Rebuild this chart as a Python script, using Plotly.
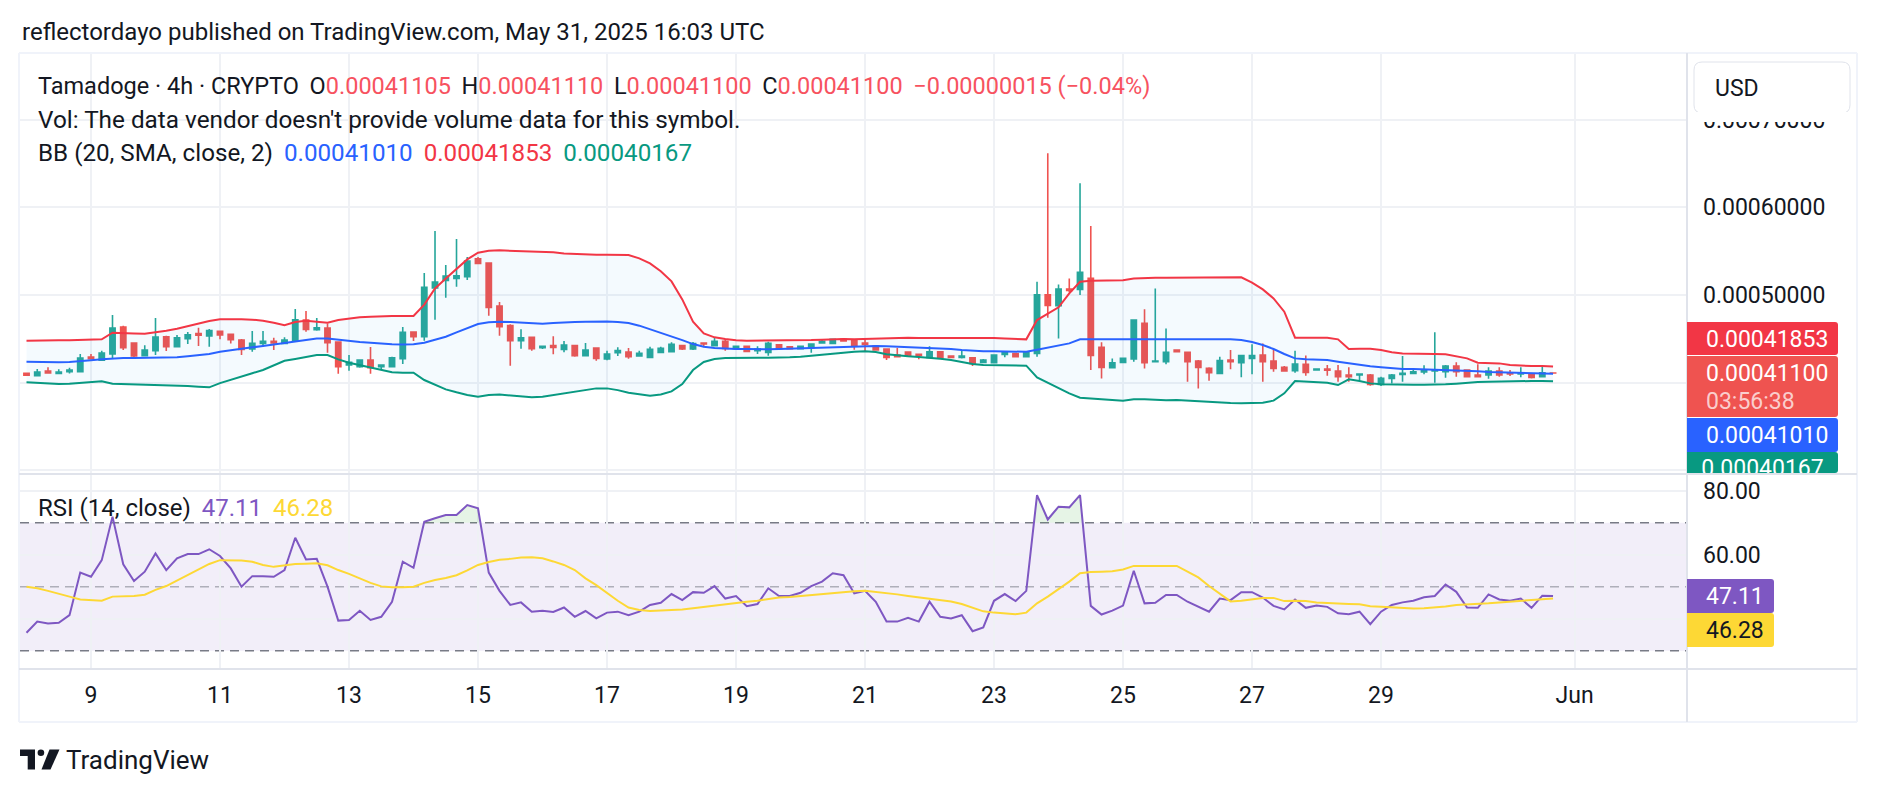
import numpy as np
import pandas as pd
import plotly.graph_objects as go

# ---------------- data (prices in millionths of USD) ----------------
open_u = [410.6, 408.0, 413.3, 410.6, 412.5, 412.5, 429.3, 425.5, 432.7, 463.5,
          445.2, 430.8, 436.5, 452.4, 441.0, 450.2, 455.9, 453.2, 458.5, 455.1,
          448.6, 438.4, 444.8, 447.1, 444.8, 447.5, 471.4, 460.4, 462.3, 446.4,
          420.1, 418.2, 425.8, 418.2, 418.2, 427.4, 457.8, 452.4, 507.9, 516.7,
          518.9, 520.8, 541.4, 536.4, 487.4, 465.0, 447.9, 451.7, 439.9, 442.2,
          438.0, 442.2, 430.8, 439.5, 427.0, 434.2, 435.0, 430.4, 428.9, 434.6,
          435.3, 442.2, 438.4, 445.2, 442.2, 447.1, 438.8, 441.4, 436.5, 434.6,
          443.3, 441.0, 438.8, 439.9, 445.2, 444.8, 449.4, 448.6, 445.2, 441.8,
          438.4, 431.5, 435.0, 432.3, 428.9, 435.3, 430.4, 428.9, 428.5, 423.2,
          422.8, 432.3, 433.1, 429.6, 433.4, 500.3, 487.8, 506.8, 506.4, 519.0,
          440.3, 417.1, 423.2, 427.0, 467.6, 423.9, 423.9, 437.2, 434.6, 424.7,
          416.3, 410.6, 425.8, 422.8, 427.7, 431.5, 424.7, 417.5, 413.7, 420.9,
          414.4, 415.6, 413.3, 408.7, 408.7, 408.7, 398.1, 404.9, 409.5, 410.6,
          412.2, 413.3, 412.5, 419.0, 414.4, 408.7, 408.7, 413.3, 411.4, 409.9,
          409.9, 406.8, 411.05]
high_u = [411.4, 415.6, 417.5, 415.2, 417.1, 432.7, 432.7, 436.5, 477.1, 465.0,
          445.6, 442.6, 473.7, 453.6, 454.3, 457.8, 462.7, 461.2, 458.9, 455.5,
          449.8, 458.9, 458.9, 451.3, 451.7, 484.0, 481.7, 473.7, 467.6, 446.7,
          431.5, 426.2, 440.7, 420.5, 429.6, 463.5, 458.1, 525.0, 572.9, 534.1,
          563.8, 543.3, 543.3, 536.4, 492.0, 466.5, 460.8, 452.2, 442.2, 452.8,
          447.5, 442.9, 445.2, 440.3, 436.5, 440.3, 439.5, 436.5, 441.0, 441.0,
          446.0, 442.6, 446.4, 445.6, 452.1, 449.4, 441.8, 441.8, 441.4, 446.7,
          443.7, 441.8, 441.8, 444.8, 448.6, 450.2, 450.2, 449.4, 449.4, 442.9,
          439.1, 439.5, 435.3, 432.7, 441.4, 435.7, 431.1, 436.5, 429.3, 427.0,
          432.3, 435.3, 433.4, 436.1, 515.1, 661.6, 512.0, 518.9, 627.5, 578.6,
          446.0, 427.7, 428.1, 472.2, 483.6, 507.5, 461.9, 437.6, 434.6, 425.8,
          417.5, 429.6, 437.2, 430.8, 443.7, 444.8, 438.0, 419.0, 436.5, 431.1,
          415.6, 420.1, 420.1, 417.5, 409.9, 409.9, 406.8, 409.9, 430.4, 414.4,
          419.8, 457.4, 420.1, 423.2, 415.2, 420.9, 417.5, 417.5, 414.4, 417.5,
          409.9, 419.0, 411.10]
low_u = [407.6, 407.8, 410.3, 410.3, 410.6, 412.2, 426.6, 425.1, 427.0, 437.2,
         427.4, 430.8, 431.5, 436.1, 441.0, 444.1, 441.8, 441.0, 449.4, 444.8,
         431.5, 435.3, 441.0, 437.2, 444.1, 447.1, 458.1, 459.3, 434.2, 410.3,
         413.7, 417.1, 410.3, 415.6, 418.2, 421.3, 447.5, 447.9, 471.8, 496.9,
         509.4, 517.0, 536.0, 476.4, 453.6, 419.4, 438.8, 436.5, 438.4, 432.3,
         434.6, 429.6, 430.8, 425.1, 425.5, 430.4, 427.4, 429.6, 428.5, 434.6,
         435.3, 437.2, 437.2, 440.3, 442.2, 436.5, 438.8, 435.3, 432.7, 430.8,
         438.0, 438.0, 438.4, 434.2, 444.8, 444.8, 446.7, 437.6, 435.0, 436.5,
         425.8, 429.3, 429.6, 426.6, 428.5, 427.7, 428.1, 427.7, 419.0, 422.8,
         422.8, 428.9, 428.9, 429.6, 429.6, 474.0, 450.5, 503.0, 500.0, 414.4,
         404.9, 416.3, 422.8, 423.9, 416.3, 423.9, 420.9, 434.6, 401.1, 393.5,
         402.3, 410.6, 415.2, 406.1, 409.5, 401.1, 412.5, 413.3, 411.4, 408.0,
         414.4, 408.0, 401.1, 401.1, 403.0, 396.6, 396.2, 399.2, 401.1, 409.5,
         409.5, 400.0, 405.7, 406.8, 406.4, 406.1, 404.6, 406.8, 407.6, 406.1,
         404.9, 406.8, 411.00]
close_u = [408.4, 412.2, 411.0, 412.2, 414.4, 428.1, 427.4, 433.8, 462.3, 439.9,
           430.4, 437.2, 452.1, 441.0, 451.3, 454.7, 454.0, 459.3, 454.3, 449.0,
           438.0, 444.8, 447.1, 445.2, 448.6, 471.8, 460.8, 462.7, 445.6, 418.2,
           423.2, 425.8, 417.1, 420.1, 428.5, 457.4, 452.4, 508.7, 514.8, 521.6,
           522.0, 538.7, 536.0, 485.9, 463.9, 447.9, 451.3, 438.8, 441.4, 440.3,
           442.9, 430.8, 437.2, 427.7, 432.7, 436.5, 429.6, 433.4, 438.0, 439.1,
           443.7, 438.4, 444.5, 444.1, 447.1, 439.1, 441.4, 435.7, 438.4, 444.8,
           438.8, 438.8, 441.4, 444.1, 447.1, 449.4, 447.5, 442.2, 443.7, 437.2,
           428.9, 429.6, 430.4, 431.1, 435.3, 428.5, 428.9, 430.4, 422.0, 425.8,
           431.5, 434.6, 429.6, 435.0, 500.3, 488.2, 506.8, 505.3, 525.8, 431.0,
           417.5, 422.8, 427.7, 471.4, 422.8, 424.7, 434.6, 435.3, 423.9, 417.5,
           411.4, 425.1, 423.9, 430.8, 430.8, 423.9, 416.3, 413.3, 421.3, 411.8,
           415.6, 414.1, 406.8, 406.8, 409.9, 398.1, 404.9, 408.7, 410.6, 412.5,
           414.4, 414.4, 419.0, 412.5, 406.8, 406.8, 413.3, 408.7, 409.9, 411.1,
           406.1, 411.15, 411.00]

bb_upper_u = [447.9, 448.3, 448.3, 448.3, 448.3, 448.6, 449.0, 449.4, 457.0, 457.0,
              456.2, 455.9, 457.4, 459.3, 461.6, 464.6, 467.6, 470.3, 472.2, 472.6,
              472.2, 471.8, 470.7, 468.4, 465.4, 469.2, 470.7, 469.5, 468.4, 471.4,
              473.0, 474.5, 475.2, 476.0, 476.0, 476.0, 476.0, 489.0, 507.5, 518.9,
              530.3, 540.6, 548.2, 550.5, 550.9, 550.5, 550.1, 550.1, 549.3, 548.6,
              547.4, 546.7, 546.3, 545.9, 545.9, 545.9, 545.5, 541.7, 536.0, 527.0,
              515.5, 495.0, 469.5, 456.2, 451.7, 449.8, 448.3, 447.9, 447.9, 448.3,
              448.3, 448.3, 448.6, 448.6, 449.0, 449.8, 449.8, 449.4, 449.8, 450.2,
              450.5, 451.3, 451.3, 450.9, 450.9, 450.9, 451.3, 451.7, 451.7, 451.3,
              450.9, 450.5, 450.2, 449.4, 471.4, 478.3, 485.9, 501.8, 515.1, 516.3,
              516.3, 516.3, 516.7, 518.9, 519.7, 519.7, 519.7, 519.7, 519.7, 520.1,
              520.1, 520.1, 520.1, 520.1, 514.0, 506.4, 496.1, 480.9, 451.3, 451.3,
              451.3, 451.3, 449.4, 438.4, 438.8, 438.8, 437.2, 434.6, 433.4, 433.4,
              433.4, 432.7, 432.3, 430.4, 427.7, 422.8, 422.0, 422.0, 420.1, 419.4,
              419.0, 419.0, 418.53]
bb_basis_u = [423.9, 423.6, 423.2, 423.2, 423.6, 424.3, 425.5, 426.6, 427.7, 428.1,
              428.1, 428.1, 428.5, 428.5, 428.9, 430.0, 431.2, 432.7, 435.3, 437.2,
              438.8, 440.3, 441.8, 443.7, 445.6, 447.5, 449.0, 450.5, 450.5, 449.0,
              447.5, 446.5, 445.5, 444.5, 443.8, 443.5, 443.7, 445.6, 448.6, 452.4,
              457.4, 462.3, 466.9, 468.8, 469.5, 469.2, 468.4, 467.6, 467.3, 468.0,
              468.8, 469.2, 469.5, 469.9, 469.9, 469.2, 468.0, 465.0, 461.0, 456.5,
              453.0, 448.5, 444.0, 441.0, 439.5, 438.8, 438.4, 438.4, 438.0, 438.0,
              438.4, 438.8, 439.1, 439.5, 440.3, 440.7, 441.4, 441.8, 441.8, 441.8,
              441.4, 441.0, 440.7, 440.3, 439.9, 439.1, 438.4, 437.2, 436.1, 435.7,
              435.7, 435.3, 435.3, 435.3, 437.6, 439.9, 442.2, 444.8, 449.4, 449.4,
              449.4, 449.4, 449.4, 450.2, 450.2, 450.2, 450.2, 449.8, 449.8, 449.4,
              449.4, 449.4, 449.4, 448.6, 446.4, 442.9, 438.4, 432.7, 427.7, 426.6,
              426.2, 425.8, 423.9, 422.0, 420.1, 418.6, 417.5, 416.3, 415.6, 415.6,
              415.2, 415.2, 414.8, 414.1, 413.7, 412.9, 412.2, 411.8, 411.4, 411.0,
              410.6, 410.3, 410.10]
bb_lower_u = [400.4, 399.6, 398.9, 398.5, 398.9, 400.0, 400.8, 401.5, 398.9, 398.5,
              398.5, 398.5, 398.1, 397.7, 397.0, 396.2, 395.4, 394.7, 399.5, 403.5,
              407.0, 410.8, 414.5, 420.0, 425.0, 427.0, 429.5, 431.5, 431.5, 426.6,
              422.8, 420.1, 417.5, 414.4, 411.8, 411.4, 411.4, 403.0, 397.3, 392.4,
              389.0, 385.9, 384.0, 385.9, 386.5, 385.5, 384.3, 383.3, 384.0, 386.0,
              388.0, 389.5, 392.0, 393.5, 393.5, 391.5, 388.5, 386.5, 385.2, 386.5,
              390.0, 398.5, 414.4, 423.6, 427.0, 428.1, 428.5, 428.5, 428.5, 428.5,
              428.5, 428.9, 429.6, 430.8, 431.9, 433.4, 434.6, 435.3, 435.7, 435.0,
              432.3, 430.8, 430.0, 429.3, 428.5, 427.4, 425.8, 423.6, 421.3, 420.1,
              419.8, 419.8, 419.4, 419.4, 406.1, 400.0, 393.5, 387.8, 382.9, 381.8,
              381.0, 380.2, 379.5, 381.0, 381.0, 380.2, 379.9, 380.2, 379.5, 378.3,
              377.6, 377.2, 376.8, 376.4, 376.4, 377.2, 379.5, 387.8, 401.9, 401.1,
              400.8, 400.0, 397.3, 403.8, 401.9, 399.2, 398.1, 397.7, 397.7, 397.7,
              397.7, 397.7, 398.1, 398.9, 400.0, 400.8, 401.1, 401.5, 401.9, 401.9,
              401.9, 401.9, 401.67]

rsi = [35.6, 39.1, 38.5, 38.7, 41.1, 54.4, 53.1, 58.3, 71.9, 57.0,
       51.8, 54.7, 60.4, 55.2, 58.9, 60.2, 60.2, 61.7, 59.6, 55.7,
       50.0, 53.3, 53.3, 53.1, 55.2, 65.3, 58.5, 58.7, 50.0, 39.4,
       39.6, 42.5, 39.6, 40.6, 45.3, 57.8, 55.9, 70.3, 71.4, 72.4,
       72.4, 75.5, 74.5, 54.4, 48.7, 44.3, 45.1, 42.2, 42.5, 42.1,
       43.5, 40.6, 42.4, 40.1, 41.9, 42.2, 41.1, 42.2, 44.3, 45.0,
       47.7, 45.8, 48.3, 48.1, 50.2, 46.3, 47.1, 43.9, 44.6, 49.5,
       47.1, 47.1, 48.1, 50.2, 51.6, 54.2, 53.6, 47.9, 48.7, 45.3,
       39.1, 39.1, 40.3, 39.1, 45.3, 40.6, 40.1, 41.1, 36.1, 37.3,
       45.6, 47.7, 45.5, 48.7, 78.6, 71.0, 75.0, 74.8, 78.6, 44.0,
       41.3, 42.5, 44.1, 55.0, 44.8, 45.0, 47.4, 47.4, 45.3, 43.7,
       42.2, 46.3, 45.8, 48.3, 48.3, 46.6, 44.0, 42.9, 46.0, 43.4,
       44.1, 43.7, 41.7, 41.4, 42.2, 38.3, 42.2, 44.3, 45.1, 45.6,
       46.7, 47.1, 50.7, 48.4, 43.5, 43.4, 47.6, 46.0, 45.6, 46.3,
       43.4, 47.2, 47.11]
rsi_ma = [50.0, 49.5, 48.7, 47.9, 46.9, 46.0, 45.8, 45.6, 46.9, 47.0,
          47.1, 47.5, 49.0, 50.2, 51.9, 53.6, 55.5, 57.1, 58.3, 58.3,
          58.2, 57.8, 56.8, 56.2, 56.6, 57.1, 57.2, 57.3, 56.7, 55.2,
          54.0, 52.6, 51.2, 50.1, 49.8, 49.8, 50.0, 51.2, 52.1, 52.7,
          53.6, 55.1, 56.8, 57.7, 58.4, 58.7, 59.1, 59.2, 58.9, 57.9,
          56.8, 55.2, 52.6, 50.5, 48.1, 45.6, 43.5, 42.7, 42.4, 42.5,
          42.6, 42.9, 43.3, 43.7, 44.3, 44.6, 44.9, 45.3, 45.6, 46.2,
          46.6, 46.8, 47.1, 47.4, 47.6, 48.0, 48.4, 48.6, 48.7, 48.4,
          48.1, 47.6, 47.1, 46.7, 46.3, 45.8, 45.4, 44.6, 43.5, 42.3,
          41.9, 41.7, 41.4, 41.9, 44.8, 46.9, 49.2, 51.6, 54.2, 54.6,
          54.7, 54.8, 55.4, 56.5, 56.5, 56.5, 56.5, 56.5, 54.7, 52.9,
          50.2, 47.9, 45.4, 45.6, 46.0, 46.5, 46.5, 45.5, 45.6, 45.5,
          45.1, 44.9, 44.6, 44.6, 44.5, 43.9, 43.7, 43.5, 43.3, 43.2,
          43.3, 43.5, 43.8, 44.3, 44.4, 44.5, 44.8, 45.1, 45.4, 45.7,
          45.9, 46.1, 46.28]

price_ticks = [0.0003, 0.0004, 0.0005, 0.0006, 0.0007]
# labels at 0.0003 / 0.0004 sit under the price badges in the reference
price_tick_text = ["", "", "0.00050000", "0.00060000", "0.00070000"]
rsi_ticks = [40, 60, 80]
rsi_tick_text = ["", "60.00", "80.00"]
date_ticks = ["2025-05-09", "2025-05-11", "2025-05-13", "2025-05-15", "2025-05-17",
              "2025-05-19", "2025-05-21", "2025-05-23", "2025-05-25", "2025-05-27",
              "2025-05-29", "2025-06-01"]
date_tick_text = ["9", "11", "13", "15", "17", "19", "21", "23", "25", "27", "29", "Jun"]

U = 1e-6
o = np.array(open_u) * U
h = np.array(high_u) * U
l = np.array(low_u) * U
c = np.array(close_u) * U
bbu = np.array(bb_upper_u) * U
bbm = np.array(bb_basis_u) * U
bbl = np.array(bb_lower_u) * U
times = pd.date_range("2025-05-08 00:00", periods=len(open_u), freq="4h")

# ---------------- geometry helpers ----------------
W, H = 1878, 794
ML, MR, MT, MB = 20, 192, 54, 72
PW = W - ML - MR
PH = H - MT - MB


def px(x):
    return (x - ML) / PW


def py(y):
    return (H - MB - y) / PH


FONT = "Roboto"
TXT = "#131722"
UP, DN = "#26a69a", "#ef5350"
GRID = "#eff1f5"

fig = go.Figure()

# BB background fill (under candles)
fig.add_trace(go.Scatter(x=times, y=bbl, mode="lines", line=dict(width=0),
                         hoverinfo="skip", showlegend=False))
fig.add_trace(go.Scatter(x=times, y=bbu, mode="lines", line=dict(width=0),
                         fill="tonexty", fillcolor="rgba(33,150,243,0.05)",
                         hoverinfo="skip", showlegend=False))

fig.add_trace(go.Candlestick(
    x=times, open=o, high=h, low=l, close=c,
    increasing=dict(line=dict(color=UP, width=1.6), fillcolor=UP),
    decreasing=dict(line=dict(color=DN, width=1.6), fillcolor=DN),
    whiskerwidth=0, hoverinfo="skip", showlegend=False))

fig.add_trace(go.Scatter(x=times, y=bbu, mode="lines", line=dict(color="#f23645", width=2),
                         hoverinfo="skip", showlegend=False))
fig.add_trace(go.Scatter(x=times, y=bbl, mode="lines", line=dict(color="#089981", width=2),
                         hoverinfo="skip", showlegend=False))
fig.add_trace(go.Scatter(x=times, y=bbm, mode="lines", line=dict(color="#2962ff", width=2),
                         hoverinfo="skip", showlegend=False))

# RSI overbought fill (region between RSI and 70 where RSI>70)
t_ms = (times.astype("int64") // 10**6).to_numpy().astype(float)
r = np.array(rsi)
fx, fy = [], []
i = 0
while i < len(r):
    if r[i] > 70:
        if i > 0:
            f = (70 - r[i - 1]) / (r[i] - r[i - 1])
            fx.append(t_ms[i - 1] + f * (t_ms[i] - t_ms[i - 1]))
        else:
            fx.append(t_ms[i])
        fy.append(70)
        j = i
        while j < len(r) and r[j] > 70:
            fx.append(t_ms[j]); fy.append(r[j]); j += 1
        if j < len(r):
            f = (70 - r[j - 1]) / (r[j] - r[j - 1])
            fx.append(t_ms[j - 1] + f * (t_ms[j] - t_ms[j - 1]))
        else:
            fx.append(t_ms[j - 1])
        fy.append(70)
        fx.append(None); fy.append(None)
        i = j
    else:
        i += 1
fx_dt = [pd.to_datetime(v, unit="ms") if v is not None else None for v in fx]
fig.add_trace(go.Scatter(x=fx_dt, y=fy, mode="lines", line=dict(width=0), fill="toself",
                         fillcolor="rgba(76,175,80,0.14)", xaxis="x2", yaxis="y2",
                         hoverinfo="skip", showlegend=False))

fig.add_trace(go.Scatter(x=times, y=rsi, mode="lines", line=dict(color="#7e57c2", width=2),
                         xaxis="x2", yaxis="y2", hoverinfo="skip", showlegend=False))
fig.add_trace(go.Scatter(x=times, y=rsi_ma, mode="lines", line=dict(color="#fdd835", width=2),
                         xaxis="x2", yaxis="y2", hoverinfo="skip", showlegend=False))

# ---------------- axes ----------------
x_lo = pd.Timestamp("2025-05-08 00:00") - pd.Timedelta(hours=2.419)
x_hi = pd.Timestamp("2025-05-08 00:00") + pd.Timedelta(hours=617.47)
common_x = dict(type="date", range=[x_lo, x_hi], tickvals=date_ticks, showgrid=True,
                gridcolor=GRID, gridwidth=1.5, zeroline=False, showline=False, fixedrange=True)

fig.update_layout(
    width=W, height=H, margin=dict(l=ML, r=MR, t=MT, b=MB, pad=0),
    paper_bgcolor="white", plot_bgcolor="white", hovermode=False, showlegend=False,
    xaxis=dict(domain=[0, 1], anchor="y", showticklabels=False,
               rangeslider=dict(visible=False), **common_x),
    xaxis2=dict(domain=[0, 1], anchor="y2", ticktext=date_tick_text, ticks="",
                ticklabelstandoff=10, tickfont=dict(family=FONT, size=23, color=TXT),
                **common_x),
    yaxis=dict(domain=[py(473), py(54)], anchor="x", side="right",
               range=[297.0e-6, 774.8e-6], tickvals=price_ticks, ticktext=price_tick_text,
               showgrid=True, gridcolor=GRID, gridwidth=1.5, zeroline=False, ticks="",
               ticklabelstandoff=16, tickfont=dict(family=FONT, size=23, color=TXT),
               fixedrange=True),
    yaxis2=dict(domain=[py(669), py(475)], anchor="x2", side="right",
                range=[24.28, 84.91], tickvals=rsi_ticks, ticktext=rsi_tick_text,
                showgrid=True, gridcolor=GRID, gridwidth=1.5, zeroline=False, ticks="",
                ticklabelstandoff=16, tickfont=dict(family=FONT, size=23, color=TXT),
                fixedrange=True),
)

# RSI band + dashed levels
fig.add_shape(type="rect", xref="x2 domain", yref="y2", x0=0, x1=1, y0=30, y1=70,
              fillcolor="rgba(126,87,194,0.1)", line=dict(width=0), layer="below")
for lvl, col in [(70, "#787b86"), (50, "rgba(120,123,134,0.55)"), (30, "#787b86")]:
    fig.add_shape(type="line", xref="x2 domain", yref="y2", x0=0, x1=1, y0=lvl, y1=lvl,
                  line=dict(color=col, width=1.6, dash="9px,6px"), layer="below")


# ---------------- frame ----------------
def hline(x0, x1, y, color, w=2):
    fig.add_shape(type="line", xref="paper", yref="paper", x0=px(x0), x1=px(x1),
                  y0=py(y), y1=py(y), line=dict(color=color, width=w), layer="above")


def vline(x, y0, y1, color, w=2):
    fig.add_shape(type="line", xref="paper", yref="paper", x0=px(x), x1=px(x),
                  y0=py(y0), y1=py(y1), line=dict(color=color, width=w), layer="above")


FRAME = "#f0f3fa"
SEP = "#e0e3eb"
hline(19, 1857, 53, FRAME)
hline(19, 1857, 722, FRAME)
vline(19, 53, 722, FRAME)
vline(1857, 53, 722, FRAME)
vline(1687, 53, 722, SEP)
hline(19, 1857, 474, SEP)
hline(19, 1857, 669, SEP)


def badge(x0, y0, x1, y1, color, rad=3):
    path = (f"M {px(x0)},{py(y0)} L {px(x1 - rad)},{py(y0)} "
            f"Q {px(x1)},{py(y0)} {px(x1)},{py(y0 + rad)} "
            f"L {px(x1)},{py(y1 - rad)} Q {px(x1)},{py(y1)} {px(x1 - rad)},{py(y1)} "
            f"L {px(x0)},{py(y1)} Z")
    fig.add_shape(type="path", xref="paper", yref="paper", path=path,
                  fillcolor=color, line=dict(width=0), layer="above")


def text(x, y, s, size=23, color=TXT, anchor="left", **kw):
    fig.add_annotation(x=px(x), y=py(y), xref="paper", yref="paper", text=s,
                       showarrow=False, xanchor=anchor, yanchor="middle",
                       font=dict(family=FONT, size=size, color=color), **kw)


# white header strip of the price scale that hides the top of the 0.0007 label
fig.add_annotation(x=px(1689), y=py(112), xref="paper", yref="paper", text=" ",
                   showarrow=False, xanchor="left", yanchor="top", width=166, height=10,
                   bgcolor="white", borderpad=0, borderwidth=0)

# USD box
r8 = 8
x0u, y0u, x1u, y1u = 1694, 62, 1850, 113
usd_path = (f"M {px(x0u + r8)},{py(y0u)} L {px(x1u - r8)},{py(y0u)} "
            f"Q {px(x1u)},{py(y0u)} {px(x1u)},{py(y0u + r8)} L {px(x1u)},{py(y1u - r8)} "
            f"Q {px(x1u)},{py(y1u)} {px(x1u - r8)},{py(y1u)} L {px(x0u + r8)},{py(y1u)} "
            f"Q {px(x0u)},{py(y1u)} {px(x0u)},{py(y1u - r8)} L {px(x0u)},{py(y0u + r8)} "
            f"Q {px(x0u)},{py(y0u)} {px(x0u + r8)},{py(y0u)} Z")
fig.add_shape(type="path", xref="paper", yref="paper", path=usd_path,
              fillcolor="white", line=dict(color="#e0e3eb", width=1), layer="above")
text(1713, 88, "USD")

# price-scale badges
badge(1687, 322, 1838, 355, "#f23645")
badge(1687, 356, 1838, 417, "#ef5350")
badge(1687, 418, 1838, 452, "#2962ff")
badge(1687, 452, 1838, 473, "#089981")
text(1704, 339, "0.00041853", color="white")
text(1704, 373, "0.00041100", color="white")
text(1704, 401, "03:56:38", color="rgba(255,255,255,0.72)")
text(1704, 435.5, "0.00041010", color="white")
fig.add_annotation(x=px(1687), y=py(455), xref="paper", yref="paper", text="0.00040167",
                   showarrow=False, xanchor="left", yanchor="top", width=151, height=18,
                   align="center", valign="top", borderpad=0, borderwidth=0,
                   font=dict(family=FONT, size=23, color="white"))

badge(1687, 579, 1774, 613, "#7e57c2")
badge(1687, 613, 1774, 647, "#fdd835")
text(1704, 596, "47.11", color="white")
text(1704, 630, "46.28", color=TXT)

# ---------------- legends / titles ----------------
SP = "\u00a0\u2009"
RED = "#f7525f"
text(20, 32, "reflectordayo published on TradingView.com, May 31, 2025 16:03 UTC", size=24)
line1 = (f"Tamadoge · 4h · CRYPTO{SP}O<span style='color:{RED}'>0.00041105</span>"
         f"{SP}H<span style='color:{RED}'>0.00041110</span>"
         f"{SP}L<span style='color:{RED}'>0.00041100</span>"
         f"{SP}C<span style='color:{RED}'>0.00041100</span>"
         f"{SP}<span style='color:{RED}'>−0.00000015 (−0.04%)</span>")
text(36, 86, line1, size=23.5)
text(36, 120, "Vol: The data vendor doesn't provide volume data for this symbol.", size=24.3)
line3 = (f"BB (20, SMA, close, 2){SP}<span style='color:#2962ff'>0.00041010</span>"
         f"{SP}<span style='color:#f23645'>0.00041853</span>"
         f"{SP}<span style='color:#089981'>0.00040167</span>")
text(36, 153.5, line3, size=24.2)
line4 = (f"RSI (14, close){SP}<span style='color:#7e57c2'>47.11</span>"
         f"{SP}<span style='color:#fdd835'>46.28</span>")
text(36, 508, line4, size=24)


# TradingView logo
def poly(pts, color):
    d = "M " + " L ".join(f"{px(x)},{py(y)}" for x, y in pts) + " Z"
    fig.add_shape(type="path", xref="paper", yref="paper", path=d, fillcolor=color,
                  line=dict(width=0), layer="above")


poly([(20, 749.5), (35, 749.5), (35, 769.5), (27.7, 769.5), (27.7, 756.1), (20, 756.1)], TXT)
fig.add_shape(type="circle", xref="paper", yref="paper", x0=px(37.6), x1=px(44.2),
              y0=py(756.1), y1=py(749.5), fillcolor=TXT, line=dict(width=0), layer="above")
poly([(49.5, 749.5), (59.5, 749.5), (50.5, 769.5), (41.5, 769.5)], TXT)
text(64, 760, "TradingView", size=26)

fig.write_html("out.html", include_plotlyjs=True, full_html=True)
